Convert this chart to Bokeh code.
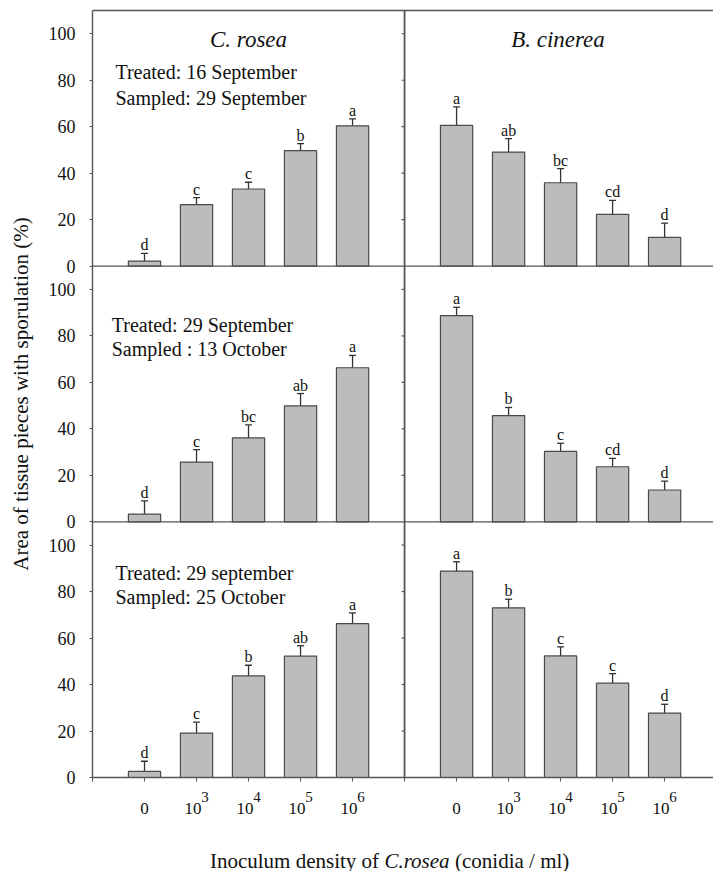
import math
from bokeh.plotting import figure
from bokeh.layouts import column
from bokeh.models import (Range1d, FixedTicker, LinearAxis, Span, Whisker, Label,
                          ColumnDataSource, TeeHead)
from bokeh.core.properties import value
from bokeh.embed import file_html
from bokeh.resources import INLINE

# ---------------- data ----------------
categories = ["0", "10^3", "10^4", "10^5", "10^6"]
y_ticks = [0, 20, 40, 60, 80, 100]

# panels listed from top to bottom
rosea_means = [[2.2, 26.5, 33.2, 49.7, 60.4],
               [3.3, 25.7, 36.1, 49.9, 66.3],
               [2.6, 19.1, 43.7, 52.2, 66.2]]
rosea_err = [[3.3, 3.0, 2.9, 3.0, 3.0],
             [5.7, 5.4, 5.6, 5.3, 5.3],
             [4.4, 4.7, 4.6, 4.5, 4.6]]
rosea_letters = [["d", "c", "c", "b", "a"],
                 ["d", "c", "bc", "ab", "a"],
                 ["d", "c", "b", "ab", "a"]]

cinerea_means = [[60.6, 49.1, 35.9, 22.3, 12.4],
                 [88.7, 45.7, 30.3, 23.7, 13.7],
                 [88.8, 73.0, 52.3, 40.6, 27.7]]
cinerea_err = [[7.9, 5.8, 6.1, 6.0, 6.1],
               [3.6, 3.5, 3.5, 3.6, 3.8],
               [4.0, 3.7, 3.9, 4.1, 3.8]]
cinerea_letters = [["a", "ab", "bc", "cd", "d"],
                   ["a", "b", "c", "cd", "d"],
                   ["a", "b", "c", "c", "d"]]

treated = ["Treated: 16 September", "Treated: 29 September", "Treated: 29 september"]
sampled = ["Sampled: 29 September", "Sampled : 13 October", "Sampled: 25 October"]
species = ["C. rosea", "B. cinerea"]

y_label = "Area of tissue pieces with sporulation (%)"
x_label_parts = ["Inoculum density of", "C.rosea", "(conidia / ml)"]

# ---------------- layout / style ----------------
FONT = "Liberation Serif"
TXT = "#111111"
LINE = "#555555"
BAR_FILL = "#bcbcbc"
BAR_LINE = "#4a4a4a"
PANEL_H = 110
N = len(rosea_means)
offsets = [PANEL_H * (N - 1 - i) for i in range(N)]
RIGHT_SHIFT = 6
x_left = [i + 1 for i in range(len(categories))]
x_right = [RIGHT_SHIFT + x for x in x_left]

FRAME_W = 621
FRAME_H = 767
X_END = 11.94
PX = X_END / FRAME_W                 # data units per pixel (x)
PY = PANEL_H * N / FRAME_H           # data units per pixel (y)
BOTTOM_BORDER = 12
TOTAL_H = 871

p = figure(frame_width=FRAME_W, frame_height=FRAME_H,
           x_range=Range1d(0, X_END), y_range=Range1d(0, PANEL_H * N),
           output_backend="svg", toolbar_location=None,
           min_border_left=92, min_border_right=0, min_border_top=10,
           min_border_bottom=BOTTOM_BORDER)
p.outline_line_color = None
p.xgrid.visible = False
p.ygrid.visible = False
p.background_fill_color = "white"
p.border_fill_color = "white"

# y axis (left)
yt = [off + t for off in offsets for t in y_ticks]
p.yaxis.ticker = FixedTicker(ticks=yt)
p.yaxis.major_label_overrides = {off + t: str(t) for off in offsets for t in y_ticks}
p.yaxis.minor_tick_line_color = None
p.yaxis.major_tick_out = 3
p.yaxis.major_tick_in = 0
p.yaxis.major_tick_line_color = LINE
p.yaxis.axis_line_color = LINE
p.yaxis.axis_line_width = 1.4
p.yaxis.major_label_text_font = FONT
p.yaxis.major_label_text_font_size = "18px"
p.yaxis.major_label_text_color = TXT
p.yaxis.major_label_standoff = 14
p.yaxis.axis_label = y_label
p.yaxis.axis_label_text_font = FONT
p.yaxis.axis_label_text_font_size = "21px"
p.yaxis.axis_label_text_font_style = "normal"
p.yaxis.axis_label_text_color = TXT
p.yaxis.axis_label_standoff = 13

# x axis (bottom): ticks only, labels drawn in the strip below
p.xaxis.ticker = FixedTicker(ticks=list(range(0, 12)))
p.xaxis.major_label_overrides = {i: "" for i in range(0, 12)}
p.xaxis.major_label_text_font_size = "0px"
p.xaxis.major_label_standoff = 0
p.xaxis.minor_tick_line_color = None
p.xaxis.major_tick_out = 4
p.xaxis.major_tick_in = 0
p.xaxis.major_tick_line_color = LINE
p.xaxis.axis_line_color = LINE
p.xaxis.axis_line_width = 1.4

# top border
top_axis = LinearAxis(ticker=FixedTicker(ticks=[]), major_tick_out=0, major_tick_in=0,
                      minor_tick_out=0, minor_tick_in=0, major_label_standoff=0,
                      major_label_text_font_size="0px", axis_line_color=LINE,
                      axis_line_width=1.4)
p.add_layout(top_axis, "above")

# panel separators
for off in offsets[:-1]:
    p.add_layout(Span(location=off, dimension="width", line_color=LINE, line_width=1.4))
p.add_layout(Span(location=RIGHT_SHIFT, dimension="height", line_color=LINE, line_width=1.8))

# small y ticks on the divider
div_y = [off + t for off in offsets for t in y_ticks[1:]]
p.ray(x=[RIGHT_SHIFT] * len(div_y), y=div_y, length=3, length_units="screen",
      angle=math.pi, line_color=LINE, line_width=1.2)


def draw_panel(xs, means, errs, letters, off):
    src = ColumnDataSource(dict(
        x=xs,
        top=[off + m for m in means],
        bottom=[off] * len(xs),
        upper=[off + m + e for m, e in zip(means, errs)],
        label_y=[off + m + e + 8.5 * PY for m, e in zip(means, errs)],
        letter=letters,
    ))
    p.vbar(x="x", top="top", bottom="bottom", width=0.62, source=src,
           fill_color=BAR_FILL, line_color=BAR_LINE, line_width=1.2)
    p.add_layout(Whisker(base="x", lower="top", upper="upper", source=src,
                         dimension="height", line_color="#333333", line_width=1.3,
                         upper_head=TeeHead(size=7, line_color="#333333", line_width=1.3),
                         lower_head=None))
    p.text(x="x", y="label_y", text="letter", source=src, text_font=value(FONT),
           text_font_size="16px", text_color=TXT, text_align="center",
           text_baseline="middle")


for i, off in enumerate(offsets):
    draw_panel(x_left, rosea_means[i], rosea_err[i], rosea_letters[i], off)
    draw_panel(x_right, cinerea_means[i], cinerea_err[i], cinerea_letters[i], off)

# panel annotations (x, y in panel units)
ann_x = [0.44, 0.37, 0.44]
ann_y1 = [83.6, 84.6, 88.0]
ann_y2 = [72.4, 74.3, 77.6]
p.text(x=ann_x + ann_x,
       y=[o + y for o, y in zip(offsets, ann_y1)] + [o + y for o, y in zip(offsets, ann_y2)],
       text=treated + sampled, text_font=value(FONT), text_font_size="20px",
       text_color=TXT, text_align="left", text_baseline="middle")

# species titles in top row
p.text(x=[3.0, RIGHT_SHIFT + 2.95], y=[offsets[0] + 97.5] * 2, text=species,
       text_font=value(FONT), text_font_style="italic", text_font_size="23px",
       text_color=TXT, text_align="center", text_baseline="middle")

# ---------------- strip below: tick labels + x title ----------------
STRIP_H = TOTAL_H - (10 + FRAME_H + BOTTOM_BORDER)
q = figure(frame_width=FRAME_W, frame_height=STRIP_H,
           x_range=p.x_range, y_range=Range1d(-BOTTOM_BORDER - STRIP_H, -BOTTOM_BORDER),
           output_backend="svg", toolbar_location=None,
           min_border_left=92, min_border_right=0, min_border_top=0,
           min_border_bottom=0)
q.axis.visible = False
q.xgrid.visible = False
q.ygrid.visible = False
q.outline_line_color = None
q.background_fill_color = "white"
q.border_fill_color = "white"

for xs in (x_left, x_right):
    for x, cat in zip(xs, categories):
        if "^" in cat:
            b, e = cat.split("^")
            q.add_layout(Label(x=x - 3.5 * PX, y=-31, text=b, text_font=FONT,
                               text_font_size="17px", text_color=TXT,
                               text_align="center", text_baseline="middle"))
            q.add_layout(Label(x=x + 8.5 * PX, y=-19, text=e, text_font=FONT,
                               text_font_size="15px", text_color=TXT,
                               text_align="center", text_baseline="middle"))
        else:
            q.add_layout(Label(x=x, y=-31, text=cat, text_font=FONT,
                               text_font_size="17px", text_color=TXT,
                               text_align="center", text_baseline="middle"))

anchor = 6.24
q.text(x=[anchor - 38 * PX], y=[-83], text=[x_label_parts[0]], text_font=value(FONT),
       text_font_size="21px", text_color=TXT, text_align="right", text_baseline="middle")
q.text(x=[anchor], y=[-83], text=[x_label_parts[1]], text_font=value(FONT),
       text_font_style="italic", text_font_size="21px", text_color=TXT,
       text_align="center", text_baseline="middle")
q.text(x=[anchor + 38 * PX], y=[-83], text=[x_label_parts[2]], text_font=value(FONT),
       text_font_size="21px", text_color=TXT, text_align="left", text_baseline="middle")

layout = column(p, q, spacing=0)
open("out.html", "w").write(file_html(layout, INLINE))
